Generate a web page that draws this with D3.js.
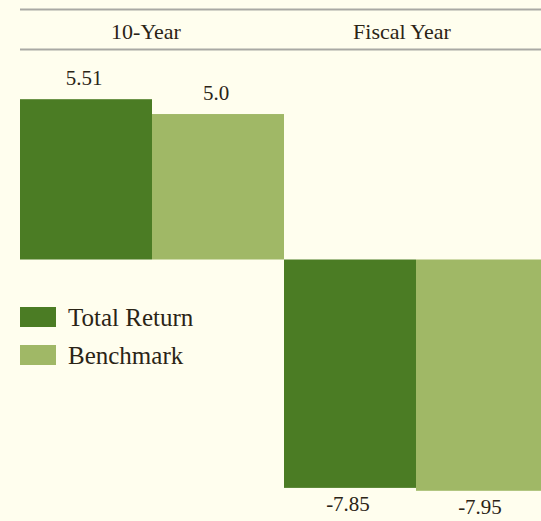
<!DOCTYPE html>
<html>
<head>
<meta charset="utf-8">
<script src="https://cdn.jsdelivr.net/npm/d3@7"></script>
<style>
  html, body { margin: 0; padding: 0; background: #fffeee; }
  svg { display: block; }
</style>
</head>
<body>
<script>
const categories = ["10-Year", "Fiscal Year"];
const series = ["Total Return", "Benchmark"];
const totalReturn = [5.51, -7.85];
const benchmark = [5.0, -7.95];
const totalLabels = ["5.51", "-7.85"];
const benchmarkLabels = ["5.0", "-7.95"];
const colors = ["#4b7c24", "#a0b866"];

const FONT = "'Liberation Serif', 'DejaVu Serif', serif";
const INK = "#2b2416";

const W = 541, H = 521;
const svg = d3.select("body").append("svg").attr("width", W).attr("height", H)
  .style("font-family", FONT);
svg.append("rect").attr("width", W).attr("height", H).attr("fill", "#fffeee");

const x0 = d3.scaleBand().domain(categories).range([20, 548]).padding(0);
const x1 = d3.scaleBand().domain(series).range([0, x0.bandwidth()]).padding(0);
const y = d3.scaleLinear().domain([-7.95, 5.51]).range([490.8, 99.2]);
const color = d3.scaleOrdinal().domain(series).range(colors);
const header = d3.scalePoint().domain(categories).range([146, 402]);

// header rules
[9.5, 49.5].forEach(yy => {
  svg.append("line").attr("x1", 20).attr("x2", W).attr("y1", yy).attr("y2", yy)
    .attr("stroke", "#a9a9a4").attr("stroke-width", 2);
});

svg.selectAll("text.header").data(categories).join("text")
  .attr("class", "header")
  .attr("x", d => header(d)).attr("y", 39)
  .attr("text-anchor", "middle").attr("font-size", 22)
  .attr("font-family", FONT).attr("fill", INK)
  .text(d => d);

const rows = [];
categories.forEach((c, i) => {
  rows.push({ cat: c, s: series[0], v: totalReturn[i], label: totalLabels[i] });
  rows.push({ cat: c, s: series[1], v: benchmark[i], label: benchmarkLabels[i] });
});

svg.selectAll("rect.bar").data(rows).join("rect")
  .attr("class", "bar")
  .attr("x", d => x0(d.cat) + x1(d.s))
  .attr("width", x1.bandwidth())
  .attr("y", d => y(Math.max(0, d.v)))
  .attr("height", d => Math.abs(y(d.v) - y(0)))
  .attr("fill", d => color(d.s));

svg.selectAll("text.val").data(rows).join("text")
  .attr("class", "val")
  .attr("x", d => x0(d.cat) + x1(d.s) + x1.bandwidth() / 2 - 2)
  .attr("y", d => d.v >= 0 ? y(d.v) - 14 : y(d.v) + 23)
  .attr("text-anchor", "middle").attr("font-size", 21)
  .attr("font-family", FONT).attr("fill", INK)
  .text(d => d.label);

// legend
const lg = svg.append("g").attr("transform", "translate(20,307)");
const li = lg.selectAll("g").data(series).join("g")
  .attr("transform", (d, i) => `translate(0,${i * 38})`);
li.append("rect").attr("width", 36).attr("height", 20).attr("fill", d => color(d));
li.append("text").attr("x", 48).attr("y", 19).attr("font-size", 25)
  .attr("font-family", FONT).attr("fill", INK).text(d => d);
</script>
</body>
</html>
